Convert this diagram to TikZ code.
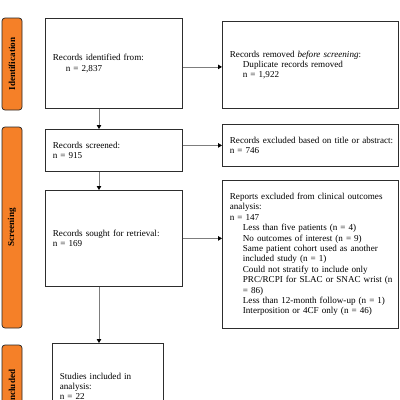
\documentclass[tikz,border=0pt]{standalone}
\usepackage{fontspec}
\setmainfont{Liberation Serif}
\usetikzlibrary{arrows.meta,calc}
\definecolor{prisorange}{RGB}{245,128,40}
\definecolor{boxline}{RGB}{45,45,45}
\definecolor{arrline}{RGB}{125,125,125}
\tikzset{
  fbox/.style={draw=boxline, line width=0.8pt, anchor=north west, align=left,
    inner xsep=7.5pt, inner ysep=0pt, font=\fontsize{9.1}{10.4}\selectfont},
  phase/.style={draw=black!85, fill=prisorange, rounded corners=3pt, rotate=90,
    minimum height=20pt, inner sep=0pt, line width=0.7pt,
    font=\fontsize{9.1}{11}\selectfont\bfseries},
  arr/.style={draw=arrline, line width=0.8pt,
    -{Triangle[length=4pt,width=4.5pt,color=black]}}
}
\begin{document}
\begin{tikzpicture}[x=1pt,y=-1pt]
\useasboundingbox (0,0) rectangle (400,400);
\clip (0,0) rectangle (400,400);
% phase labels
\node[phase, minimum width=92pt] (pid) at (12,64) {Identification};
\node[phase, minimum width=201pt] (pscr) at (12,227.5) {Screening};
\node[phase, minimum width=84pt] (pinc) at (12,387) {Included};
% boxes
\node[fbox, minimum width=137pt, minimum height=90pt, text width=122pt] (b1) at (45,18)
  {Records identified from:\\\hspace*{13pt}n = 2,837};
\node[fbox, minimum width=176pt, minimum height=87pt, text width=161pt] (rem) at (222,21)
  {Records removed \textit{before screening}:\\\hspace*{13pt}Duplicate records removed\\\hspace*{13pt}n = 1,922\par\vspace*{6pt}};
\node[fbox, minimum width=137pt, minimum height=42pt, text width=122pt] (b2) at (45,129)
  {Records screened:\\n = 915};
\node[fbox, minimum width=176pt, minimum height=42pt, text width=161pt] (ex1) at (222,124)
  {\mbox{Records excluded based on title or abstract:}\\n = 746};
\node[fbox, minimum width=137pt, minimum height=96pt, text width=122pt] (b3) at (45,190)
  {Records sought for retrieval:\\n = 169};
\node[fbox, minimum width=176pt, minimum height=148pt, text width=161pt] (rep) at (222,180)
  {\mbox{Reports excluded from clinical outcomes}\\analysis:\\n = 147\\
   \hspace*{13pt}Less than five patients (n = 4)\\
   \hspace*{13pt}No outcomes of interest (n = 9)\\
   \hspace*{13pt}\mbox{Same patient cohort used as another}\\
   \hspace*{13pt}included study (n = 1)\\
   \hspace*{13pt}Could not stratify to include only\\
   \hspace*{13pt}\mbox{PRC/RCPI for SLAC or SNAC wrist (n}\\
   \hspace*{13pt}= 86)\\
   \hspace*{13pt}\mbox{Less than 12-month follow-up (n = 1)}\\
   \hspace*{13pt}\mbox{Interposition or 4CF only (n = 46)}\par\vspace*{9pt}};
\node[fbox, minimum width=111pt, minimum height=86pt, text width=96pt] (inc) at (52,343)
  {Studies included in\\analysis:\\n = 22};
% connectors
\coordinate (ax) at (99,0);
\draw[arr] (b1.south -| ax) -- (b2.north -| ax);
\draw[arr] (b2.south -| ax) -- (b3.north -| ax);
\draw[arr] (b3.south -| ax) -- (inc.north -| ax);
\draw[arr] ([yshift=-3.5pt]b1.east) -- ([yshift=-3.5pt]b1.east -| rem.west);
\draw[arr] (ex1.west -| b2.east) -- (ex1.west);
\draw[arr] (b3.east) -- (b3.east -| rep.west);
\end{tikzpicture}
\end{document}
